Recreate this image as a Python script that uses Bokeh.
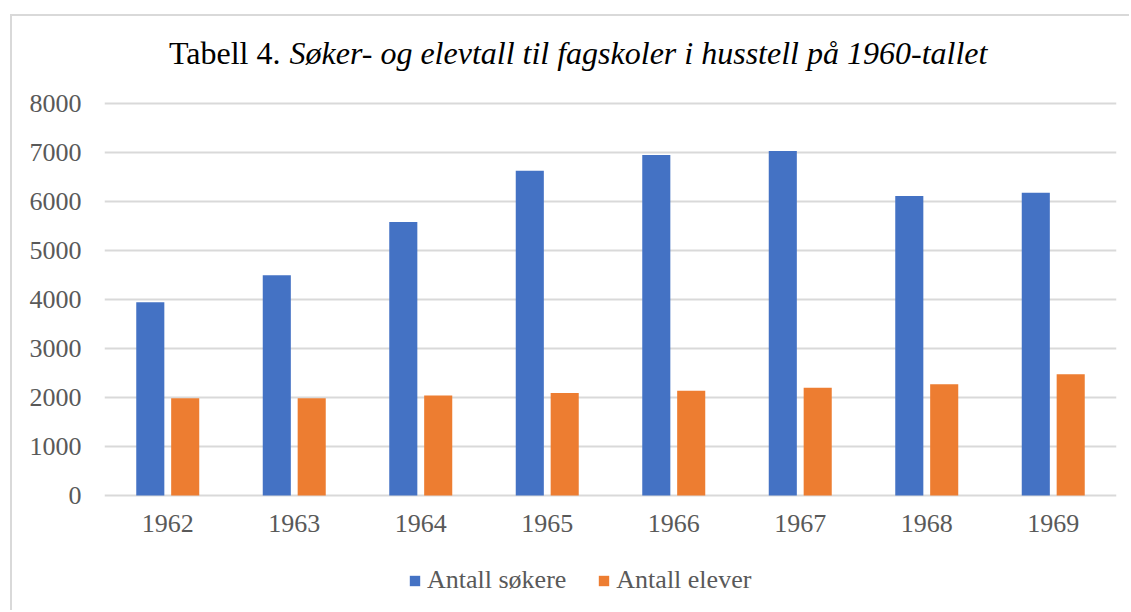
from bokeh.plotting import figure
from bokeh.models import (ColumnDataSource, FactorRange, Range1d, FixedTicker, Label,
                          Legend, LegendItem)
from bokeh.core.properties import value
from bokeh.transform import dodge
from bokeh.embed import file_html
from bokeh.resources import INLINE

years = ["1962", "1963", "1964", "1965", "1966", "1967", "1968", "1969"]
sokere = [3945, 4495, 5580, 6630, 6950, 7030, 6110, 6180]
elever = [1985, 1985, 2040, 2090, 2140, 2200, 2270, 2475]
y_ticks = [0, 1000, 2000, 3000, 4000, 5000, 6000, 7000, 8000]

FONT = "Liberation Serif"
GREY = "#595959"

src = ColumnDataSource(dict(year=years, sokere=sokere, elever=elever))

# The frame spans the full height so that title, x labels and legend sit inside it;
# the x axis is pinned at y = 0.
p = figure(x_range=FactorRange(*years, range_padding=0), y_range=Range1d(-2387.8, 9775.5),
           width=1119, height=596, output_backend="svg", toolbar_location=None,
           min_border_left=92, min_border_right=15, min_border_top=0, min_border_bottom=0)
p.margin = (14, 0, 0, 10)
p.styles = {"border-left": "2px solid #d9d9d9", "border-top": "2px solid #d9d9d9"}
p.outline_line_color = None
p.background_fill_color = "white"
p.border_fill_color = "white"

r1 = p.vbar(x=dodge("year", -0.138, range=p.x_range), top="sokere", width=0.222,
            source=src, color="#4472C4", line_color=None)
r2 = p.vbar(x=dodge("year", 0.138, range=p.x_range), top="elever", width=0.222,
            source=src, color="#ED7D31", line_color=None)

p.xgrid.grid_line_color = None
p.ygrid.grid_line_color = "#d9d9d9"
p.ygrid.grid_line_width = 2
p.yaxis.ticker = FixedTicker(ticks=y_ticks)
p.xaxis.fixed_location = 0

for ax in (p.xaxis[0], p.yaxis[0]):
    ax.axis_line_color = None
    ax.major_tick_line_color = None
    ax.minor_tick_line_color = None
    ax.major_tick_out = 0
    ax.major_tick_in = 0
    ax.major_label_text_font = FONT
    ax.major_label_text_font_size = "26px"
    ax.major_label_text_color = GREY
p.yaxis.major_label_standoff = 23
p.xaxis.major_label_standoff = 20

legend = Legend(items=[LegendItem(label=value("Antall søkere"), renderers=[r1]),
                       LegendItem(label=value("Antall elever"), renderers=[r2])],
                orientation="horizontal", location=(304, 17),
                glyph_width=13, glyph_height=13, label_standoff=6, spacing=31,
                padding=0, margin=0, border_line_color=None, background_fill_alpha=0,
                label_text_font=FONT, label_text_font_size="26px", label_text_color=GREY)
p.add_layout(legend, "center")

t1 = Label(x=176, y=560, x_units="screen", y_units="screen", text="Tabell 4.",
           text_align="right", text_baseline="alphabetic", text_font=FONT,
           text_font_size="32px", text_color="black")
t2 = Label(x=185, y=560, x_units="screen", y_units="screen",
           text="Søker- og elevtall til fagskoler i husstell på 1960-tallet",
           text_align="left", text_baseline="alphabetic", text_font=FONT,
           text_font_size="32px", text_font_style="italic", text_color="black")
p.add_layout(t1)
p.add_layout(t2)

open("out.html", "w").write(file_html(p, INLINE))
